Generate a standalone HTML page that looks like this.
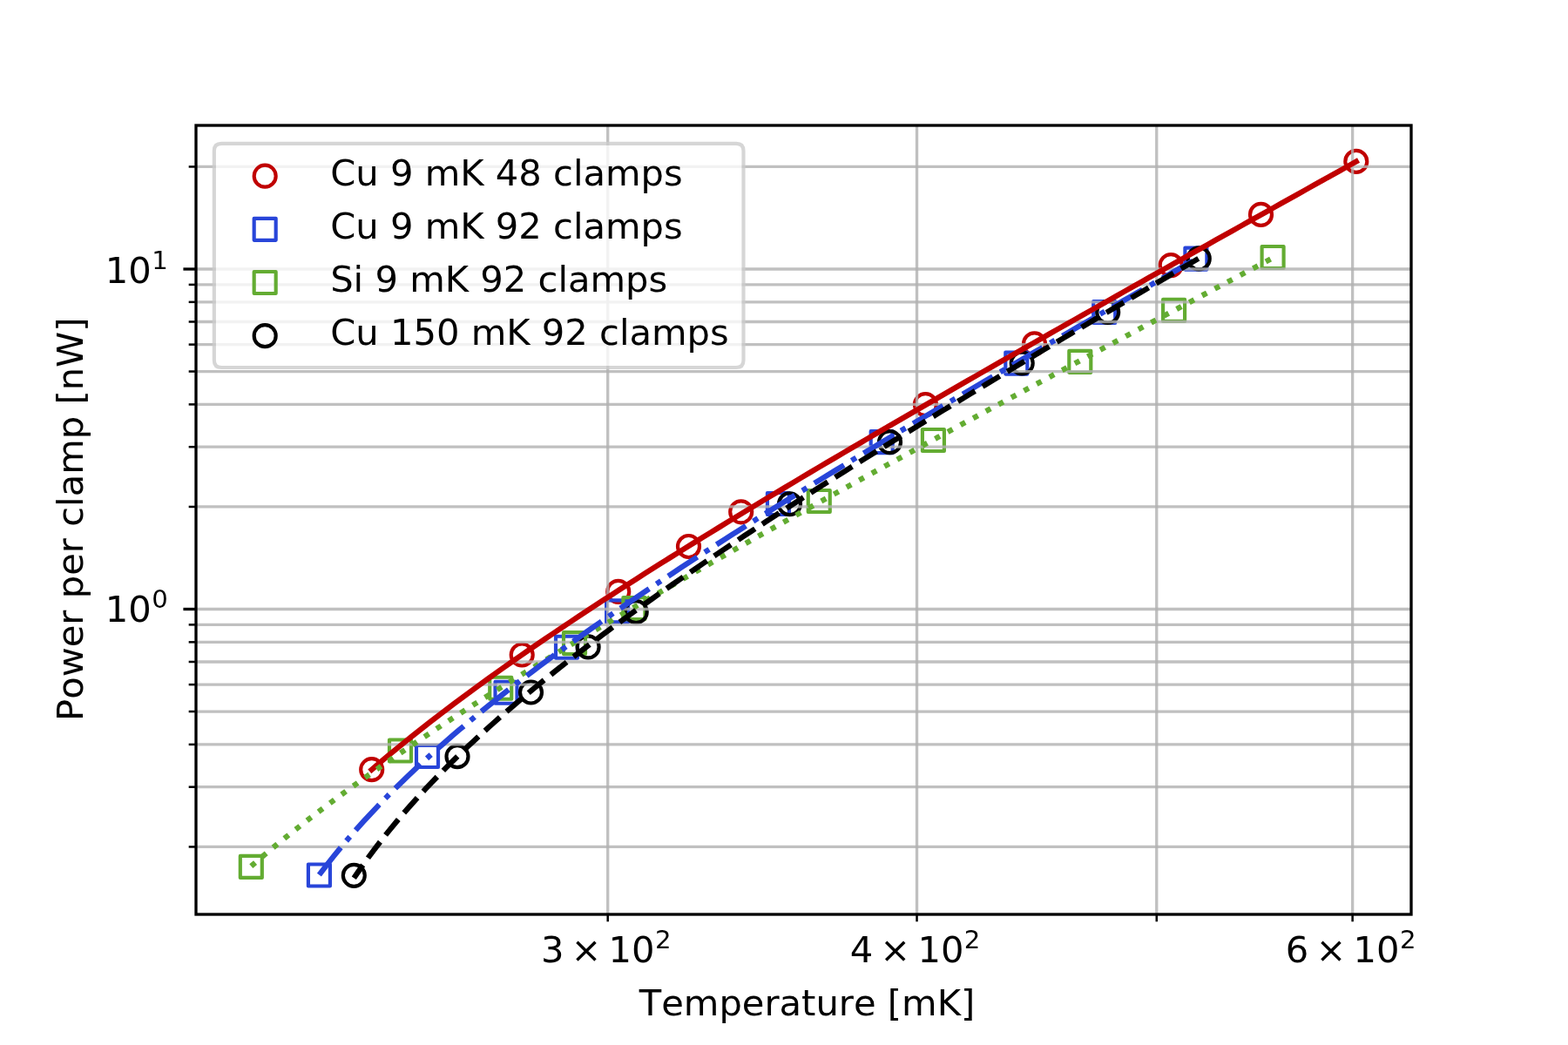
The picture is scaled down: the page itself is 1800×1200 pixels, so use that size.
<!DOCTYPE html>
<html lang="en"><head><meta charset="utf-8"><title>Power per clamp vs Temperature</title>
<style>html,body{margin:0;padding:0;background:#fff;}body{width:1800px;height:1200px;overflow:hidden;}</style></head>
<body>
<svg width="1800" height="1200" viewBox="0 0 1800 1200" style="display:block">
<defs><clipPath id="ax"><rect x="225" y="144" width="1395" height="906"/></clipPath></defs>
<rect width="1800" height="1200" fill="#ffffff"/>
<g clip-path="url(#ax)">
<circle cx="426.70" cy="883.70" r="12.500" fill="none" stroke="#c00000" stroke-width="4.167"/>
<circle cx="599.20" cy="752.00" r="12.500" fill="none" stroke="#c00000" stroke-width="4.167"/>
<circle cx="709.75" cy="679.40" r="12.500" fill="none" stroke="#c00000" stroke-width="4.167"/>
<circle cx="790.50" cy="627.50" r="12.500" fill="none" stroke="#c00000" stroke-width="4.167"/>
<circle cx="850.70" cy="587.80" r="12.500" fill="none" stroke="#c00000" stroke-width="4.167"/>
<circle cx="1062.40" cy="464.60" r="12.500" fill="none" stroke="#c00000" stroke-width="4.167"/>
<circle cx="1187.50" cy="394.80" r="12.500" fill="none" stroke="#c00000" stroke-width="4.167"/>
<circle cx="1344.20" cy="304.60" r="12.500" fill="none" stroke="#c00000" stroke-width="4.167"/>
<circle cx="1447.50" cy="246.40" r="12.500" fill="none" stroke="#c00000" stroke-width="4.167"/>
<circle cx="1556.80" cy="185.40" r="12.500" fill="none" stroke="#c00000" stroke-width="4.167"/>
<rect x="353.90" y="992.50" width="25.000" height="25.000" fill="none" stroke="#2845d9" stroke-width="4.167" stroke-linejoin="round"/>
<rect x="478.00" y="856.00" width="25.000" height="25.000" fill="none" stroke="#2845d9" stroke-width="4.167" stroke-linejoin="round"/>
<rect x="568.50" y="782.75" width="25.000" height="25.000" fill="none" stroke="#2845d9" stroke-width="4.167" stroke-linejoin="round"/>
<rect x="638.00" y="730.75" width="25.000" height="25.000" fill="none" stroke="#2845d9" stroke-width="4.167" stroke-linejoin="round"/>
<rect x="696.10" y="689.40" width="25.000" height="25.000" fill="none" stroke="#2845d9" stroke-width="4.167" stroke-linejoin="round"/>
<rect x="880.90" y="566.00" width="25.000" height="25.000" fill="none" stroke="#2845d9" stroke-width="4.167" stroke-linejoin="round"/>
<rect x="999.70" y="495.20" width="25.000" height="25.000" fill="none" stroke="#2845d9" stroke-width="4.167" stroke-linejoin="round"/>
<rect x="1154.30" y="404.60" width="25.000" height="25.000" fill="none" stroke="#2845d9" stroke-width="4.167" stroke-linejoin="round"/>
<rect x="1255.20" y="346.00" width="25.000" height="25.000" fill="none" stroke="#2845d9" stroke-width="4.167" stroke-linejoin="round"/>
<rect x="1360.40" y="284.60" width="25.000" height="25.000" fill="none" stroke="#2845d9" stroke-width="4.167" stroke-linejoin="round"/>
<rect x="275.80" y="982.90" width="25.000" height="25.000" fill="none" stroke="#63ac32" stroke-width="4.167" stroke-linejoin="round"/>
<rect x="447.00" y="849.50" width="25.000" height="25.000" fill="none" stroke="#63ac32" stroke-width="4.167" stroke-linejoin="round"/>
<rect x="562.25" y="777.75" width="25.000" height="25.000" fill="none" stroke="#63ac32" stroke-width="4.167" stroke-linejoin="round"/>
<rect x="647.00" y="726.10" width="25.000" height="25.000" fill="none" stroke="#63ac32" stroke-width="4.167" stroke-linejoin="round"/>
<rect x="715.40" y="686.10" width="25.000" height="25.000" fill="none" stroke="#63ac32" stroke-width="4.167" stroke-linejoin="round"/>
<rect x="927.75" y="563.00" width="25.000" height="25.000" fill="none" stroke="#63ac32" stroke-width="4.167" stroke-linejoin="round"/>
<rect x="1058.90" y="493.00" width="25.000" height="25.000" fill="none" stroke="#63ac32" stroke-width="4.167" stroke-linejoin="round"/>
<rect x="1227.30" y="402.80" width="25.000" height="25.000" fill="none" stroke="#63ac32" stroke-width="4.167" stroke-linejoin="round"/>
<rect x="1335.10" y="343.90" width="25.000" height="25.000" fill="none" stroke="#63ac32" stroke-width="4.167" stroke-linejoin="round"/>
<rect x="1448.60" y="283.00" width="25.000" height="25.000" fill="none" stroke="#63ac32" stroke-width="4.167" stroke-linejoin="round"/>
<circle cx="406.30" cy="1005.30" r="12.500" fill="none" stroke="#000000" stroke-width="4.167"/>
<circle cx="525.00" cy="868.70" r="12.500" fill="none" stroke="#000000" stroke-width="4.167"/>
<circle cx="609.50" cy="795.00" r="12.500" fill="none" stroke="#000000" stroke-width="4.167"/>
<circle cx="675.10" cy="742.90" r="12.500" fill="none" stroke="#000000" stroke-width="4.167"/>
<circle cx="730.20" cy="702.70" r="12.500" fill="none" stroke="#000000" stroke-width="4.167"/>
<circle cx="906.50" cy="578.75" r="12.500" fill="none" stroke="#000000" stroke-width="4.167"/>
<circle cx="1021.50" cy="507.70" r="12.500" fill="none" stroke="#000000" stroke-width="4.167"/>
<circle cx="1173.20" cy="417.00" r="12.500" fill="none" stroke="#000000" stroke-width="4.167"/>
<circle cx="1271.70" cy="358.40" r="12.500" fill="none" stroke="#000000" stroke-width="4.167"/>
<circle cx="1376.25" cy="296.90" r="12.500" fill="none" stroke="#000000" stroke-width="4.167"/>
<g stroke="#b0b0b0" stroke-opacity="0.8" stroke-width="3.333" fill="none">
<path d="M697.70 1050.0 V144.0"/>
<path d="M1052.53 1050.0 V144.0"/>
<path d="M1327.75 1050.0 V144.0"/>
<path d="M1552.63 1050.0 V144.0"/>
<path d="M225.0 699.50 H1620.0"/>
<path d="M225.0 309.00 H1620.0"/>
<path d="M225.0 972.45 H1620.0"/>
<path d="M225.0 903.68 H1620.0"/>
<path d="M225.0 854.90 H1620.0"/>
<path d="M225.0 817.05 H1620.0"/>
<path d="M225.0 786.13 H1620.0"/>
<path d="M225.0 759.99 H1620.0"/>
<path d="M225.0 737.34 H1620.0"/>
<path d="M225.0 717.37 H1620.0"/>
<path d="M225.0 581.95 H1620.0"/>
<path d="M225.0 513.18 H1620.0"/>
<path d="M225.0 464.40 H1620.0"/>
<path d="M225.0 426.55 H1620.0"/>
<path d="M225.0 395.63 H1620.0"/>
<path d="M225.0 369.49 H1620.0"/>
<path d="M225.0 346.84 H1620.0"/>
<path d="M225.0 326.87 H1620.0"/>
<path d="M225.0 191.45 H1620.0"/>
</g>
<path d="M426.70 883.83 L436.20 875.72 L445.69 867.73 L455.19 859.87 L464.69 852.13 L474.18 844.49 L483.68 836.97 L493.18 829.54 L502.67 822.20 L512.17 814.95 L521.67 807.79 L531.16 800.70 L540.66 793.69 L550.16 786.75 L559.65 779.88 L569.15 773.07 L578.65 766.32 L588.14 759.63 L597.64 753.00 L607.14 746.42 L616.63 739.89 L626.13 733.41 L635.63 726.97 L645.12 720.58 L654.62 714.23 L664.12 707.92 L673.61 701.65 L683.11 695.42 L692.61 689.22 L702.10 683.06 L711.60 676.93 L721.10 670.83 L730.59 664.76 L740.09 658.72 L749.59 652.71 L759.08 646.72 L768.58 640.76 L778.08 634.83 L787.57 628.92 L797.07 623.03 L806.57 617.16 L816.06 611.31 L825.56 605.49 L835.06 599.68 L844.55 593.89 L854.05 588.12 L863.55 582.37 L873.04 576.64 L882.54 570.92 L892.04 565.21 L901.53 559.53 L911.03 553.85 L920.53 548.19 L930.02 542.55 L939.52 536.91 L949.02 531.29 L958.51 525.69 L968.01 520.09 L977.51 514.50 L987.00 508.93 L996.50 503.37 L1005.99 497.81 L1015.49 492.27 L1024.99 486.74 L1034.48 481.21 L1043.98 475.70 L1053.48 470.19 L1062.97 464.69 L1072.47 459.20 L1081.97 453.72 L1091.46 448.24 L1100.96 442.77 L1110.46 437.31 L1119.95 431.86 L1129.45 426.41 L1138.95 420.97 L1148.44 415.54 L1157.94 410.11 L1167.44 404.68 L1176.93 399.27 L1186.43 393.85 L1195.93 388.45 L1205.42 383.04 L1214.92 377.65 L1224.42 372.25 L1233.91 366.87 L1243.41 361.48 L1252.91 356.10 L1262.40 350.73 L1271.90 345.36 L1281.40 339.99 L1290.89 334.63 L1300.39 329.27 L1309.89 323.91 L1319.38 318.56 L1328.88 313.21 L1338.38 307.86 L1347.87 302.52 L1357.37 297.18 L1366.87 291.84 L1376.36 286.51 L1385.86 281.18 L1395.36 275.85 L1404.85 270.52 L1414.35 265.20 L1423.85 259.88 L1433.34 254.56 L1442.84 249.24 L1452.34 243.93 L1461.83 238.61 L1471.33 233.30 L1480.83 227.99 L1490.32 222.69 L1499.82 217.38 L1509.32 212.08 L1518.81 206.78 L1528.31 201.48 L1537.81 196.18 L1547.30 190.88 L1556.80 185.59" fill="none" stroke="#c00000" stroke-width="6.250" stroke-linecap="square" stroke-linejoin="round"/>
<path d="M288.30 994.63 L298.16 986.20 L308.01 977.92 L317.87 969.78 L327.72 961.79 L337.58 953.92 L347.43 946.18 L357.29 938.54 L367.14 931.02 L377.00 923.60 L386.85 916.27 L396.71 909.03 L406.57 901.88 L416.42 894.81 L426.28 887.82 L436.13 880.90 L445.99 874.05 L455.84 867.27 L465.70 860.55 L475.55 853.89 L485.41 847.28 L495.26 840.73 L505.12 834.24 L514.98 827.79 L524.83 821.39 L534.69 815.03 L544.54 808.72 L554.40 802.45 L564.25 796.22 L574.11 790.03 L583.96 783.87 L593.82 777.75 L603.67 771.66 L613.53 765.61 L623.39 759.58 L633.24 753.59 L643.10 747.62 L652.95 741.68 L662.81 735.77 L672.66 729.88 L682.52 724.02 L692.37 718.18 L702.23 712.36 L712.08 706.57 L721.94 700.79 L731.80 695.04 L741.65 689.30 L751.51 683.59 L761.36 677.89 L771.22 672.21 L781.07 666.54 L790.93 660.89 L800.78 655.26 L810.64 649.64 L820.49 644.04 L830.35 638.45 L840.21 632.88 L850.06 627.31 L859.92 621.76 L869.77 616.23 L879.63 610.70 L889.48 605.18 L899.34 599.68 L909.19 594.19 L919.05 588.70 L928.91 583.23 L938.76 577.77 L948.62 572.31 L958.47 566.87 L968.33 561.43 L978.18 556.00 L988.04 550.58 L997.89 545.17 L1007.75 539.76 L1017.60 534.37 L1027.46 528.97 L1037.32 523.59 L1047.17 518.21 L1057.03 512.84 L1066.88 507.48 L1076.74 502.12 L1086.59 496.76 L1096.45 491.42 L1106.30 486.07 L1116.16 480.74 L1126.01 475.41 L1135.87 470.08 L1145.73 464.76 L1155.58 459.44 L1165.44 454.13 L1175.29 448.82 L1185.15 443.51 L1195.00 438.21 L1204.86 432.92 L1214.71 427.62 L1224.57 422.34 L1234.42 417.05 L1244.28 411.77 L1254.14 406.49 L1263.99 401.21 L1273.85 395.94 L1283.70 390.67 L1293.56 385.41 L1303.41 380.14 L1313.27 374.88 L1323.12 369.62 L1332.98 364.37 L1342.83 359.12 L1352.69 353.87 L1362.55 348.62 L1372.40 343.37 L1382.26 338.13 L1392.11 332.89 L1401.97 327.65 L1411.82 322.41 L1421.68 317.18 L1431.53 311.94 L1441.39 306.71 L1451.24 301.48 L1461.10 296.25" fill="none" stroke="#63ac32" stroke-width="6.250" stroke-linecap="butt" stroke-linejoin="round" stroke-dasharray="6.250 10.312"/>
<path d="M366.40 1004.66 L374.86 993.58 L383.32 982.90 L391.77 972.58 L400.23 962.58 L408.69 952.87 L417.15 943.44 L425.61 934.26 L434.06 925.31 L442.52 916.58 L450.98 908.04 L459.44 899.69 L467.90 891.51 L476.35 883.50 L484.81 875.63 L493.27 867.90 L501.73 860.30 L510.19 852.83 L518.64 845.48 L527.10 838.24 L535.56 831.10 L544.02 824.06 L552.48 817.11 L560.93 810.25 L569.39 803.47 L577.85 796.78 L586.31 790.16 L594.77 783.61 L603.22 777.13 L611.68 770.71 L620.14 764.36 L628.60 758.06 L637.06 751.83 L645.51 745.64 L653.97 739.51 L662.43 733.43 L670.89 727.39 L679.35 721.41 L687.80 715.46 L696.26 709.55 L704.72 703.69 L713.18 697.86 L721.64 692.07 L730.09 686.32 L738.55 680.60 L747.01 674.91 L755.47 669.25 L763.93 663.63 L772.38 658.03 L780.84 652.46 L789.30 646.92 L797.76 641.40 L806.22 635.91 L814.67 630.44 L823.13 625.00 L831.59 619.58 L840.05 614.18 L848.51 608.80 L856.96 603.44 L865.42 598.10 L873.88 592.78 L882.34 587.48 L890.79 582.19 L899.25 576.92 L907.71 571.67 L916.17 566.43 L924.63 561.21 L933.08 556.00 L941.54 550.81 L950.00 545.63 L958.46 540.47 L966.92 535.32 L975.37 530.18 L983.83 525.05 L992.29 519.93 L1000.75 514.83 L1009.21 509.73 L1017.66 504.65 L1026.12 499.58 L1034.58 494.52 L1043.04 489.46 L1051.50 484.42 L1059.95 479.38 L1068.41 474.36 L1076.87 469.34 L1085.33 464.33 L1093.79 459.33 L1102.24 454.34 L1110.70 449.35 L1119.16 444.37 L1127.62 439.40 L1136.08 434.43 L1144.53 429.48 L1152.99 424.53 L1161.45 419.58 L1169.91 414.64 L1178.37 409.71 L1186.82 404.78 L1195.28 399.86 L1203.74 394.94 L1212.20 390.03 L1220.66 385.12 L1229.11 380.22 L1237.57 375.32 L1246.03 370.43 L1254.49 365.54 L1262.95 360.66 L1271.40 355.78 L1279.86 350.91 L1288.32 346.03 L1296.78 341.17 L1305.24 336.30 L1313.69 331.44 L1322.15 326.59 L1330.61 321.73 L1339.07 316.89 L1347.53 312.04 L1355.98 307.20 L1364.44 302.36 L1372.90 297.52" fill="none" stroke="#2845d9" stroke-width="6.250" stroke-linecap="butt" stroke-linejoin="round" stroke-dasharray="40.000 10.000 6.250 10.000"/>
<path d="M406.30 1008.21 L414.45 996.38 L422.60 985.03 L430.75 974.10 L438.90 963.56 L447.05 953.37 L455.21 943.50 L463.36 933.91 L471.51 924.60 L479.66 915.53 L487.81 906.69 L495.96 898.05 L504.11 889.62 L512.26 881.36 L520.41 873.27 L528.56 865.35 L536.71 857.57 L544.86 849.92 L553.02 842.41 L561.17 835.03 L569.32 827.75 L577.47 820.59 L585.62 813.53 L593.77 806.57 L601.92 799.70 L610.07 792.91 L618.22 786.21 L626.37 779.59 L634.52 773.05 L642.67 766.57 L650.83 760.16 L658.98 753.82 L667.13 747.54 L675.28 741.32 L683.43 735.15 L691.58 729.04 L699.73 722.98 L707.88 716.97 L716.03 711.00 L724.18 705.08 L732.33 699.21 L740.48 693.37 L748.64 687.58 L756.79 681.82 L764.94 676.10 L773.09 670.41 L781.24 664.76 L789.39 659.15 L797.54 653.56 L805.69 648.00 L813.84 642.47 L821.99 636.97 L830.14 631.50 L838.29 626.05 L846.45 620.63 L854.60 615.23 L862.75 609.86 L870.90 604.50 L879.05 599.17 L887.20 593.86 L895.35 588.57 L903.50 583.30 L911.65 578.05 L919.80 572.82 L927.95 567.60 L936.10 562.40 L944.26 557.22 L952.41 552.06 L960.56 546.90 L968.71 541.77 L976.86 536.65 L985.01 531.54 L993.16 526.44 L1001.31 521.36 L1009.46 516.29 L1017.61 511.24 L1025.76 506.19 L1033.91 501.16 L1042.07 496.13 L1050.22 491.12 L1058.37 486.12 L1066.52 481.13 L1074.67 476.15 L1082.82 471.17 L1090.97 466.21 L1099.12 461.26 L1107.27 456.31 L1115.42 451.38 L1123.57 446.45 L1131.72 441.52 L1139.88 436.61 L1148.03 431.70 L1156.18 426.81 L1164.33 421.91 L1172.48 417.03 L1180.63 412.15 L1188.78 407.28 L1196.93 402.41 L1205.08 397.55 L1213.23 392.70 L1221.38 387.85 L1229.53 383.00 L1237.69 378.17 L1245.84 373.33 L1253.99 368.50 L1262.14 363.68 L1270.29 358.86 L1278.44 354.05 L1286.59 349.24 L1294.74 344.44 L1302.89 339.63 L1311.04 334.84 L1319.19 330.05 L1327.34 325.26 L1335.50 320.47 L1343.65 315.69 L1351.80 310.91 L1359.95 306.14 L1368.10 301.37 L1376.25 296.60" fill="none" stroke="#000000" stroke-width="6.250" stroke-linecap="butt" stroke-linejoin="round" stroke-dasharray="23.125 10.000" stroke-dashoffset="5"/>
</g>
<g stroke="#000" fill="none">
<path d="M697.70 1050.0 v8.333" stroke-width="2.500"/>
<path d="M1052.53 1050.0 v8.333" stroke-width="2.500"/>
<path d="M1327.75 1050.0 v8.333" stroke-width="2.500"/>
<path d="M1552.63 1050.0 v8.333" stroke-width="2.500"/>
<path d="M225.0 699.50 h-14.583" stroke-width="3.333"/>
<path d="M225.0 309.00 h-14.583" stroke-width="3.333"/>
<path d="M225.0 972.45 h-8.333" stroke-width="2.500"/>
<path d="M225.0 903.68 h-8.333" stroke-width="2.500"/>
<path d="M225.0 854.90 h-8.333" stroke-width="2.500"/>
<path d="M225.0 817.05 h-8.333" stroke-width="2.500"/>
<path d="M225.0 786.13 h-8.333" stroke-width="2.500"/>
<path d="M225.0 759.99 h-8.333" stroke-width="2.500"/>
<path d="M225.0 737.34 h-8.333" stroke-width="2.500"/>
<path d="M225.0 717.37 h-8.333" stroke-width="2.500"/>
<path d="M225.0 581.95 h-8.333" stroke-width="2.500"/>
<path d="M225.0 513.18 h-8.333" stroke-width="2.500"/>
<path d="M225.0 464.40 h-8.333" stroke-width="2.500"/>
<path d="M225.0 426.55 h-8.333" stroke-width="2.500"/>
<path d="M225.0 395.63 h-8.333" stroke-width="2.500"/>
<path d="M225.0 369.49 h-8.333" stroke-width="2.500"/>
<path d="M225.0 346.84 h-8.333" stroke-width="2.500"/>
<path d="M225.0 326.87 h-8.333" stroke-width="2.500"/>
<path d="M225.0 191.45 h-8.333" stroke-width="2.500"/>
</g>
<rect x="225.0" y="144.0" width="1395.0" height="906.0" fill="none" stroke="#000" stroke-width="3.333" stroke-linejoin="miter"/>
<g font-family="'DejaVu Sans', 'Liberation Sans', sans-serif" fill="#000" font-size="41.667" style="font-kerning:none">
<text><tspan x="620.90" y="1104.50">3</tspan><tspan x="655.50" y="1104.50">×</tspan><tspan x="698.56" y="1104.50">1</tspan><tspan x="725.07" y="1104.50">0</tspan><tspan x="751.98" y="1088.55" font-size="29.167">2</tspan></text>
<text><tspan x="975.73" y="1104.50">4</tspan><tspan x="1010.33" y="1104.50">×</tspan><tspan x="1053.39" y="1104.50">1</tspan><tspan x="1079.90" y="1104.50">0</tspan><tspan x="1106.81" y="1088.55" font-size="29.167">2</tspan></text>
<text><tspan x="1475.83" y="1104.50">6</tspan><tspan x="1510.43" y="1104.50">×</tspan><tspan x="1553.49" y="1104.50">1</tspan><tspan x="1580.00" y="1104.50">0</tspan><tspan x="1606.91" y="1088.55" font-size="29.167">2</tspan></text>
<text><tspan x="120.80" y="713.90">1</tspan><tspan x="147.31" y="713.90">0</tspan><tspan x="174.22" y="697.95" font-size="29.167">0</tspan></text>
<text><tspan x="120.80" y="325.20">1</tspan><tspan x="147.31" y="325.20">0</tspan><tspan x="174.22" y="309.25" font-size="29.167">1</tspan></text>
<text x="926.50" y="1166.40" text-anchor="middle">Temperature [mK]</text>
<text transform="translate(95.30 596.20) rotate(-90)" text-anchor="middle">Power per clamp [nW]</text>
</g>
<path d="M254.16 421.97 L845.17 421.97 Q853.50 421.97 853.50 413.64 L853.50 173.16 Q853.50 164.83 845.17 164.83 L254.16 164.83 Q245.83 164.83 245.83 173.16 L245.83 413.64 Q245.83 421.97 254.16 421.97 Z" fill="#ffffff" stroke="#cccccc" stroke-width="4.167" opacity="0.8"/>
<g font-family="'DejaVu Sans', 'Liberation Sans', sans-serif" fill="#000" font-size="41.667" style="font-kerning:none">
<circle cx="304.17" cy="202.20" r="12.500" fill="none" stroke="#c00000" stroke-width="4.167"/>
<text x="379.17" y="213.00">Cu 9 mK 48 clamps</text>
<rect x="291.67" y="250.86" width="25.000" height="25.000" fill="none" stroke="#2845d9" stroke-width="4.167" stroke-linejoin="round"/>
<text x="379.17" y="274.16">Cu 9 mK 92 clamps</text>
<rect x="291.67" y="312.02" width="25.000" height="25.000" fill="none" stroke="#63ac32" stroke-width="4.167" stroke-linejoin="round"/>
<text x="379.17" y="335.32">Si 9 mK 92 clamps</text>
<circle cx="304.17" cy="385.68" r="12.500" fill="none" stroke="#000000" stroke-width="4.167"/>
<text x="379.17" y="396.48">Cu 150 mK 92 clamps</text>
</g>
</svg>
</body></html>
